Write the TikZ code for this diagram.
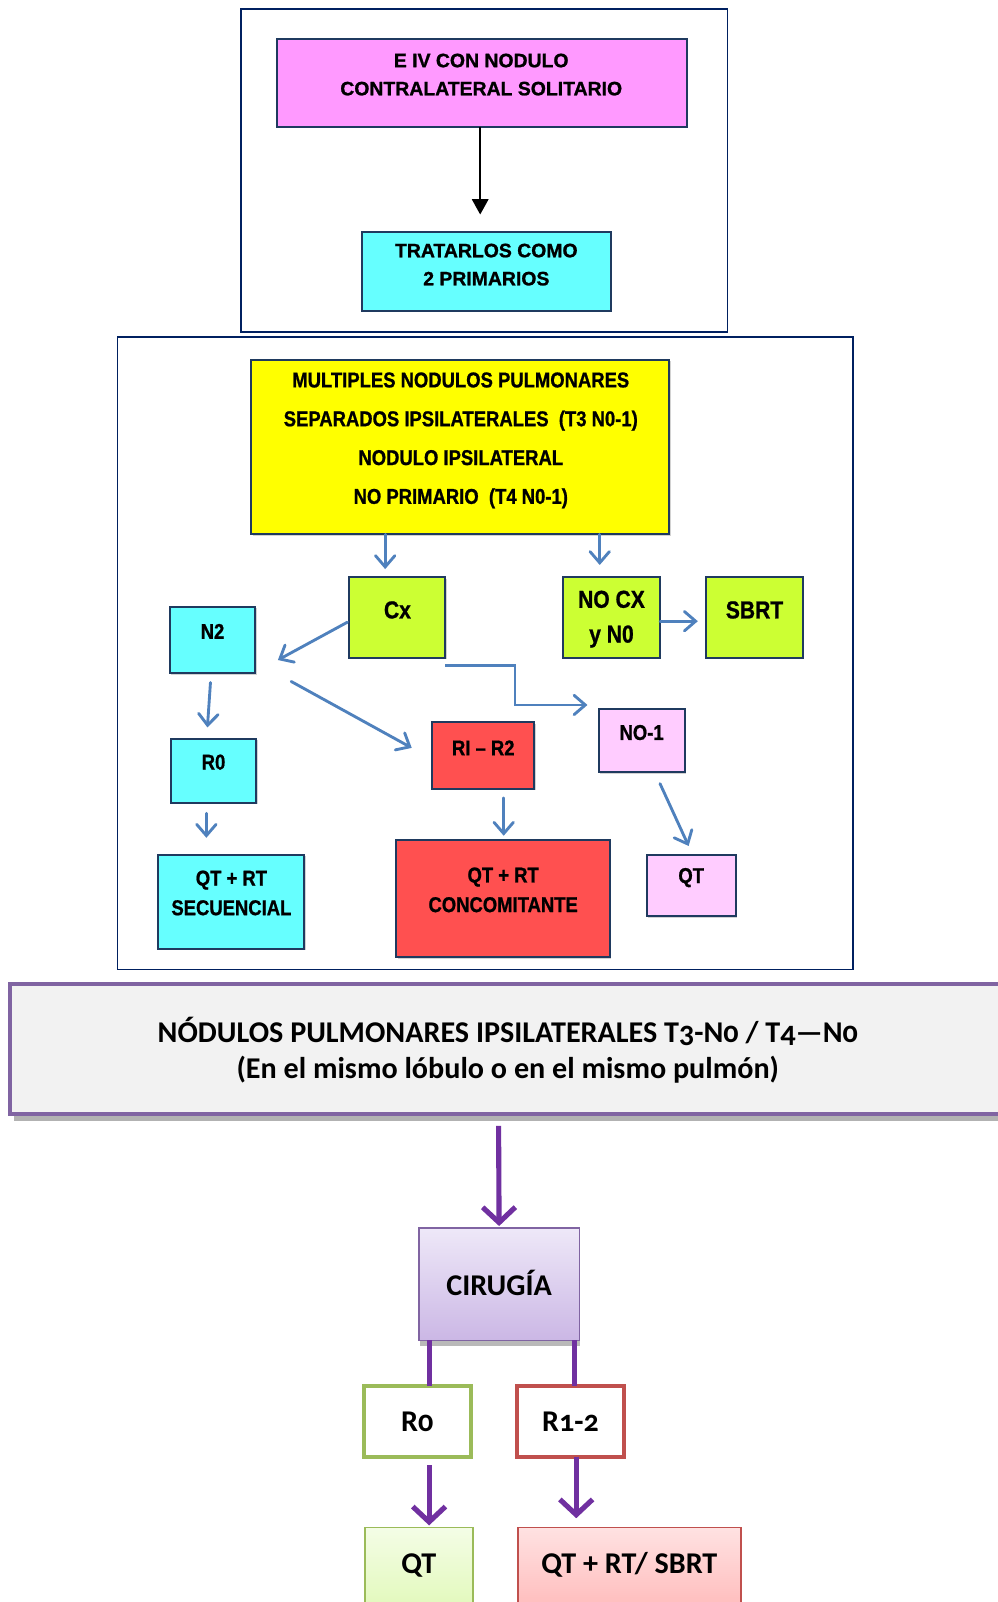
\documentclass[tikz,border=0pt]{standalone}
\usepackage{fontspec}
\setmainfont{Liberation Sans}
\newfontfamily\topfont{Liberation Sans}[FakeBold=1.1]
\newfontfamily\narrowfont{Liberation Sans}[FakeStretch=0.86, FakeBold=0.9]
\newfontfamily\calfont{Carlito}[Numbers=OldStyle]
\usetikzlibrary{arrows.meta,shadows,calc}

\definecolor{navy}{HTML}{002060}
\definecolor{boxline}{HTML}{1F3A5F}
\definecolor{pinkfill}{HTML}{FF99FF}
\definecolor{cyanfill}{HTML}{66FFFF}
\definecolor{yellowfill}{HTML}{FFFF00}
\definecolor{limefill}{HTML}{CCFF33}
\definecolor{redfill}{HTML}{FF5050}
\definecolor{lilacfill}{HTML}{FFCCFF}
\definecolor{arrowblue}{HTML}{4F81BD}
\definecolor{framepurple}{HTML}{8064A2}
\definecolor{arrowpurple}{HTML}{7030A0}
\definecolor{greyfill}{HTML}{F2F2F2}
\definecolor{okgreen}{HTML}{9BBB59}
\definecolor{warnred}{HTML}{C0504D}
\definecolor{lavtop}{HTML}{EEE8F8}
\definecolor{lavbot}{HTML}{CBB7E5}
\definecolor{greentop}{HTML}{F4FDE6}
\definecolor{greenbot}{HTML}{DAF7A8}
\definecolor{redtop}{HTML}{FFE2E2}
\definecolor{redbot}{HTML}{FFABAB}

% box given by its corners (x1,y1) and (x2,y2)
\newcommand{\boxat}[6]{%
  \node[#6, minimum width={#4-#2}, minimum height={#5-#3}] (#1)
    at ({(#2+#4)/2},{(#3+#5)/2}) {};}

\tikzset{
  frame/.style={draw=navy, line width=1.5pt},
  cbox/.style={draw=boxline, line width=2pt, inner sep=0pt, outer sep=0pt,
    drop shadow={shadow xshift=1.3pt, shadow yshift=-1.3pt, opacity=.35}},
  toptext/.style={font=\topfont\bfseries\fontsize{19}{27.5}\selectfont, align=center, inner sep=0pt},
  midtext/.style={font=\narrowfont\bfseries\fontsize{21}{29}\selectfont, align=center, inner sep=0pt},
  bigtext/.style={font=\narrowfont\bfseries\fontsize{24}{34}\selectfont, align=center, inner sep=0pt},
  caltext/.style={font=\calfont\bfseries\fontsize{29.5}{35}\selectfont, align=center, inner sep=0pt},
  barrow/.style={draw=arrowblue, line width=2.8pt, line cap=round,
    -{Straight Barb[length=11pt, width=19pt, line cap=round]}},
  parrow/.style={draw=arrowpurple, line width=5pt, -{Straight Barb[length=15pt, width=32pt]}},
  pline/.style={draw=arrowpurple, line width=5pt},
  gbox/.style={inner sep=0pt, outer sep=0pt},
}

\begin{document}
\begin{tikzpicture}[x=1pt, y=-1pt]
\useasboundingbox (0,0) rectangle (976,1568);
\fill[white] (0,0) rectangle (976,1568);

% ---------- stage IV, contralateral nodule ----------
\boxat{frameA}{236}{9}{712}{325}{frame, gbox}
\boxat{pink}{271}{38}{672}{124}{cbox, fill=pinkfill}
\boxat{cyanA}{354}{227}{598}{304}{cbox, fill=cyanfill}
\node[toptext] (pinkT) at (471,73) {E IV CON NODULO\\CONTRALATERAL SOLITARIO};
\node[toptext] (cyanAT) at (476,259) {TRATARLOS COMO\\2 PRIMARIOS};
\draw[black, line width=2pt, -{Triangle[length=15pt, width=16pt]}]
  ($(pink.south)+(-1.5,0)$) -- ($(cyanA.north)+(-6,-17)$);

% ---------- ipsilateral nodules ----------
\boxat{frameB}{115}{330}{835}{949}{frame, gbox}
\boxat{yellow}{246}{352}{655}{523}{cbox, fill=yellowfill}
\node[midtext, font=\narrowfont\bfseries\fontsize{21}{38}\selectfont] (yellowT) at (451,431)
  {MULTIPLES NODULOS PULMONARES\\SEPARADOS IPSILATERALES\ \ (T3 N0-1)\\NODULO IPSILATERAL\\NO PRIMARIO\ \ (T4 N0-1)};

\boxat{cx}{342}{565}{436}{644}{cbox, fill=limefill}
\boxat{nocx}{551}{565}{646}{644}{cbox, fill=limefill}
\boxat{sbrt}{691}{565}{786}{644}{cbox, fill=limefill}
\boxat{n2}{166}{594}{250}{659}{cbox, fill=cyanfill}
\boxat{r0}{167}{723}{251}{786}{cbox, fill=cyanfill}
\boxat{sec}{155}{837}{298}{929}{cbox, fill=cyanfill}
\boxat{rir2}{423}{707}{523}{772}{cbox, fill=redfill}
\boxat{conc}{388}{822}{597}{937}{cbox, fill=redfill}
\boxat{no1}{586}{694}{670}{756}{cbox, fill=lilacfill}
\boxat{qtp}{633}{837}{720}{897}{cbox, fill=lilacfill}

\node[bigtext] (cxT) at (389,597) {Cx};
\node[bigtext] (nocxT) at (598.5,606) {NO CX\\y N0};
\node[bigtext] (sbrtT) at (738.5,597) {SBRT};
\node[midtext] (n2T) at (208,618) {N2};
\node[midtext] (r0T) at (209,746) {R0};
\node[midtext] (secT) at (226.5,874) {QT + RT\\SECUENCIAL};
\node[midtext] (rir2T) at (473,732) {RI – R2};
\node[midtext] (concT) at (492.5,871) {QT + RT\\CONCOMITANTE};
\node[midtext] (no1T) at (628,717) {NO-1};
\node[midtext] (qtpT) at (676.5,859) {QT};

\coordinate (fork) at (285,667);
\coordinate (bend) at (504,651);
\draw[barrow] ($(cx.north |- yellow.south)+(-12,0)$) -- ($(cx.north)+(-12,-8)$);
\draw[barrow] ($(nocx.north |- yellow.south)+(-11.5,0)$) -- ($(nocx.north)+(-11.5,-12)$);
\draw[barrow] ($(nocx.east)+(0,3.5)$) -- ($(sbrt.west)+(-8,3.5)$);
\draw[barrow] ($(cx.west)+(-2,4.5)$) -- ($(n2.east)+(22,19.5)$);
\draw[barrow] (fork) -- ($(rir2.west)+(-20,-7.5)$);
\draw[barrow, line cap=butt] ($(cx.south east)+(0,7)$) -- (bend) |- ($(no1.west)+(-11,-35)$);
\draw[barrow] ($(n2.south)+(-2,9)$) -- ($(r0.north)+(-6,-11)$);
\draw[barrow] ($(r0.south)+(-7,10)$) -- ($(sec.north)+(-24.5,-17)$);
\draw[barrow] ($(rir2.south)+(20,9)$) -- ($(conc.north)+(0.5,-4)$);
\draw[barrow] ($(no1.south)+(18,11)$) -- ($(qtp.north)+(-2.5,-9)$);

% ---------- surgery pathway ----------
\fill[gray!60] (14,1090) rectangle (990,1097);
\boxat{grey}{10}{963}{990}{1090}{gbox, fill=greyfill, draw=framepurple, line width=4pt}
\node[caltext] (greyT) at (497,1028)
  {NÓDULOS PULMONARES IPSILATERALES T3-N0 / T4—N0\\(En el mismo lóbulo o en el mismo pulmón)};

\fill[gray!55] (411,1312) rectangle (568,1317);
\boxat{cir}{410}{1202}{567}{1312}{gbox, draw=framepurple, line width=1.4pt,
  top color=lavtop, bottom color=lavbot}
\node[caltext] (cirT) at (488.5,1256) {CIRUGÍA};

\boxat{ro}{356}{1357}{461}{1426}{gbox, fill=white, draw=okgreen, line width=4pt}
\boxat{r12}{506}{1357}{611}{1426}{gbox, fill=white, draw=warnred, line width=4pt}
\node[caltext] (roT) at (408.5,1392) {R0};
\node[caltext] (r12T) at (558.5,1392) {R1-2};

\boxat{qtg}{357}{1495}{463}{1610}{gbox, draw=okgreen, line width=1.8pt,
  top color=greentop, bottom color=greenbot}
\boxat{qtr}{507}{1495}{725}{1610}{gbox, draw=warnred, line width=1.8pt,
  top color=redtop, bottom color=redbot}
\node[caltext] (qtgT) at (410,1532) {QT};
\node[caltext] (qtrT) at (616,1532) {QT + RT/ SBRT};

\draw[parrow] ($(grey.south)+(-12,12)$) -- ($(cir.north)+(0,-2)$);
\draw[pline] ($(cir.south)+(-68.5,0)$) -- ($(cir.south |- ro.north)+(-68.5,0)$);
\draw[pline] ($(cir.south)+(73.5,0)$) -- ($(cir.south |- r12.north)+(73.5,0)$);
\draw[parrow] ($(ro.south)+(11.5,8)$) -- ($(ro.south |- qtg.north)+(11.5,-2)$);
\draw[parrow] ($(r12.south)+(5.5,0)$) -- ($(r12.south |- qtr.north)+(5.5,-9)$);
\end{tikzpicture}
\end{document}
